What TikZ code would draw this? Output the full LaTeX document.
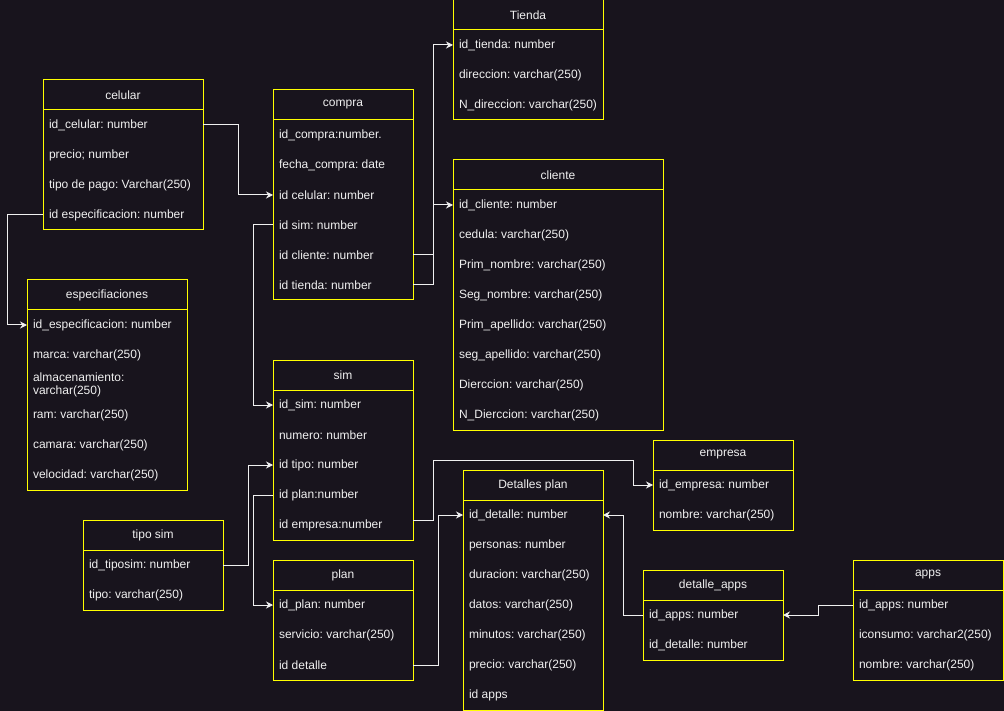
\documentclass[tikz,border=0pt]{standalone}
\usepackage{fontspec}
\setmainfont{Liberation Sans}
\usepackage{tikz}
\usetikzlibrary{calc,arrows.meta}
\definecolor{fondo}{HTML}{18141D}
\definecolor{amarillo}{HTML}{FFFF00}
\definecolor{texto}{HTML}{F0F0F0}
\frenchspacing
\tikzset{cabecera/.style={minimum height=30pt,inner sep=0pt,outer sep=0pt,    % title row
                    text=texto,font=\fontsize{12}{13}\selectfont,anchor=north west},
         fila/.style={minimum height=30pt,inner xsep=6pt,inner ysep=0pt,outer sep=0pt, % field rows
                    align=flush left,text=texto,font=\fontsize{12}{13}\selectfont,anchor=north west},
         borde/.style={draw=amarillo,line width=1pt},
         flecha/.style={draw=texto,line width=1pt,-{Stealth[length=7pt,width=7pt]}}}
% #1 name, #2 top left, #3 width, #4 title, #5 number of rows, #6 rows
\newcommand{\tabla}[6]{%
  \node[cabecera,minimum width=#3] (#1) at #2 {#4};
  \pgfmathsetmacro\anchotexto{#3-12}
  \foreach \fila [count=\i] in {#6}
    \node[fila,text width=\anchotexto pt] (#1-\i) at ($(#1.south west)+(0,{(\i-1)*30})$) {\fila};
  \draw[borde] (#1.north west) rectangle ($(#1.south east)+(0,{#5*30})$);
  \draw[borde] (#1.south west) -- (#1.south east);
}

\begin{document}
\begin{tikzpicture}[x=1pt,y=-1pt]
                    \fill[fondo] (0,0) rectangle (1004,711);
                    \useasboundingbox (0,0) rectangle (1004,711);
                    \tabla{celular}{(43,80)}{160}{celular}{4}{id\_celular: number,precio; number,tipo de pago: Varchar(250),id especificacion: number}
                    \tabla{especificaciones}{(27,280)}{160}{especifiaciones}{6}{id\_especificacion: number,marca: varchar(250),almacenamiento:\\varchar(250),ram: varchar(250),camara: varchar(250),velocidad: varchar(250)}
                    \tabla{compra}{(273,90)}{140}{compra}{6}{id\_compra:number.,fecha\_compra: date,id celular: number,id sim: number,id cliente: number,id tienda: number}
                    \tabla{tienda}{(453,0)}{150}{Tienda}{3}{id\_tienda: number,direccion: varchar(250),N\_direccion: varchar(250)}
                    \tabla{cliente}{(453,160)}{210}{cliente}{8}{id\_cliente: number,cedula: varchar(250),Prim\_nombre: varchar(250),Seg\_nombre: varchar(250),Prim\_apellido: varchar(250),seg\_apellido: varchar(250),Dierccion: varchar(250),N\_Dierccion: varchar(250)}
                    \tabla{sim}{(273,360)}{140}{sim}{5}{id\_sim: number,numero: number,id tipo: number,id plan:number,id empresa:number}
                    \tabla{tiposim}{(83,520)}{140}{tipo sim}{2}{id\_tiposim: number,tipo: varchar(250)}
                    \tabla{plan}{(273,560)}{140}{plan}{3}{id\_plan: number,servicio: varchar(250),id detalle}
                    \tabla{detalles}{(463,470)}{140}{Detalles plan}{7}{id\_detalle: number,personas: number,duracion: varchar(250),datos: varchar(250),minutos: varchar(250),precio: varchar(250),id apps}
                    \tabla{empresa}{(653,440)}{140}{empresa}{2}{id\_empresa: number,nombre: varchar(250)}
                    \tabla{detalleapps}{(643,570)}{140}{detalle\_apps}{2}{id\_apps: number,id\_detalle: number}
                    \tabla{apps}{(853,560)}{150}{apps}{3}{id\_apps: number,iconsumo: varchar2(250),nombre: varchar(250)}
                    % relations
                    \coordinate (codo) at (633,460);
                    \draw[flecha] (celular-1.east) -- ++(35,0) |- (compra-3.west);
                    \draw[flecha] (celular-4.west) -- ++(-36,0) |- (especificaciones-1.west);
                    \draw[flecha] (compra-4.west) -- ++(-20,0) |- (sim-1.west);
                    \draw[flecha] (compra-5.east) -- ++(20,0) |- (cliente-1.west);
                    \draw[flecha] (compra-6.east) -- ++(20,0) |- (tienda-1.west);
                    \draw[flecha] (tiposim-1.east) -- ++(25,0) |- (sim-3.west);
                    \draw[flecha] (sim-4.west) -- ++(-20,0) |- (plan-1.west);
                    \draw[flecha] ([yshift=5pt]sim-5.east) -- ++(20,0) |- (codo) |- (empresa-1.west);
                    \draw[flecha] (plan-3.east) -- ++(25,0) |- (detalles-1.west);
                    \draw[flecha] (detalleapps-1.west) -- ++(-20,0) |- (detalles-1.east);
                    \draw[flecha] (apps-1.west) -- ++(-35,0) |- (detalleapps-1.east);
                \end{tikzpicture}
\end{document}
